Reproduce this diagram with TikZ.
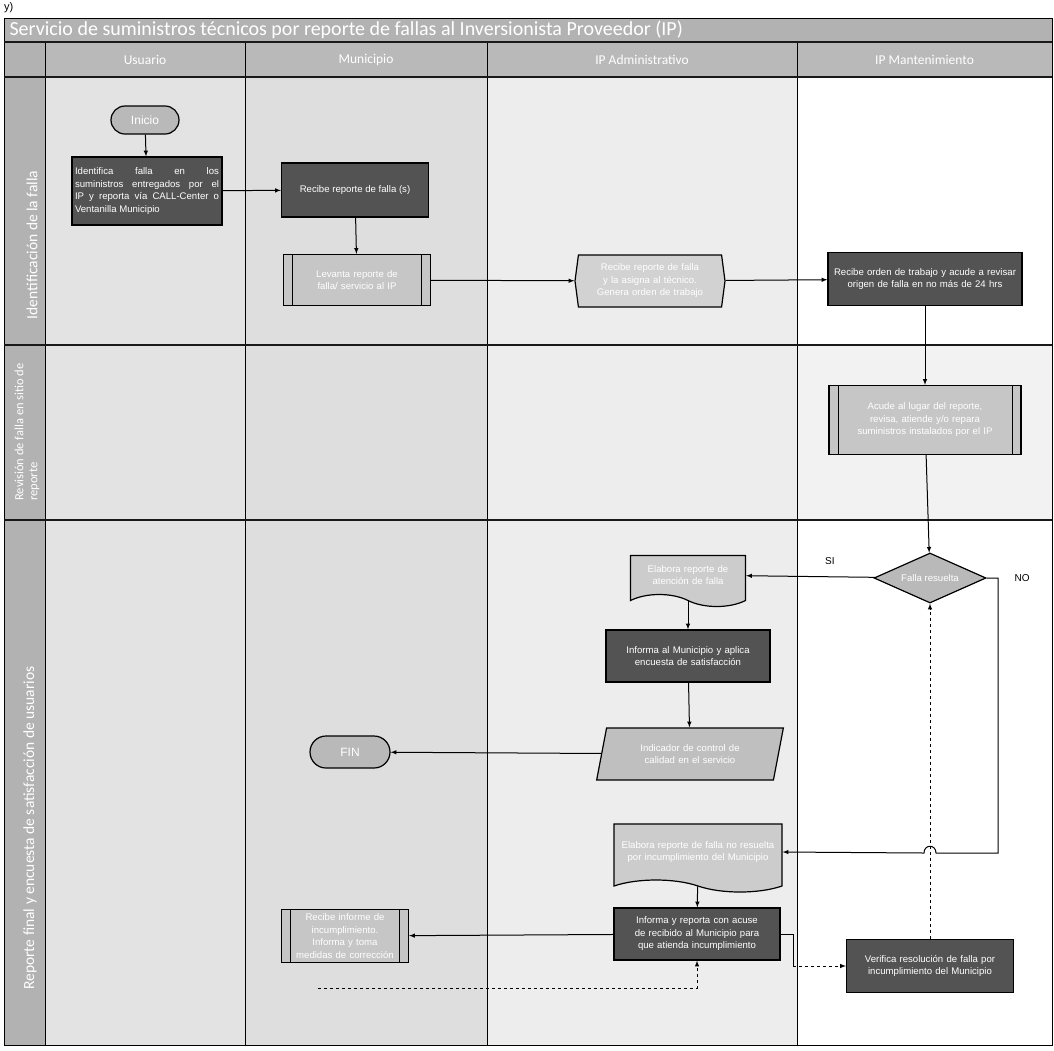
\documentclass[tikz,border=0pt]{standalone}
\usepackage{fontspec}
\setmainfont{Liberation Sans}
\newfontfamily\titlefont{Carlito}
\hyphenpenalty=10000
\exhyphenpenalty=10000
\usetikzlibrary{arrows,shapes,shapes.geometric,shapes.misc,shapes.symbols,positioning}
\tikzset{proc/.style={
            draw,
            fill=gray!65!black,
            text=white,
            line width=1.2pt,
            inner sep=1pt,
            align=center,
            font=\fontsize{9.6}{12.5}\selectfont
        },
        subproc/.style={
            proc,
            fill=gray!45,
            path picture={
                \draw[line width=1pt] ([xshift=9pt]path picture bounding box.north west) -- ([xshift=9pt]path picture bounding box.south west);
                \draw[line width=1pt] ([xshift=-9pt]path picture bounding box.north east) -- ([xshift=-9pt]path picture bounding box.south east);
            }
        },
        term/.style={
            proc,
            fill=gray!55,
            rounded rectangle,
            font=\fontsize{12}{14}\selectfont
        },
        doc/.style={
            proc,
            fill=gray!40,
            tape,
            tape bend top=none,
            tape bend bottom=out and in,
            tape bend height=12pt
        },
        prep/.style={
            proc,
            fill=gray!35,
            signal,
            signal to=west and east,
            signal pointer angle=165
        },
        io/.style={
            proc,
            fill=gray!50,
            trapezium,
            trapezium left angle=70,
            trapezium right angle=110,
            trapezium stretches=true
        },
        decision/.style={
            proc,
            fill=gray!55,
            diamond,
            aspect=2.2,
            inner sep=0pt
        },
        header/.style={
            fill=gray!55,
            text=white,
            font=\titlefont\fontsize{13.5}{15}\selectfont
        },
        lanelabel/.style={
            rotate=90,
            text=white,
            align=left,
            font=\titlefont\fontsize{15.5}{16}\selectfont
        },
        flow/.style={
            >=latex,
            line width=1pt,
            ->
        }
    }

\begin{document}
\begin{tikzpicture}[x=1pt,y=-1pt]
        \useasboundingbox (0,0) rectangle (1054,1050);
        \fill[white] (0,0) rectangle (1054,1050);
        % lanes
        \fill[gray!22] (45,77) rectangle (245,1045);
        \fill[gray!26] (245,77) rectangle (487,1045);
        \fill[gray!14] (487,77) rectangle (797,1045);
        \fill[gray!10] (797,345) rectangle (1052,520);
        \fill[gray!60] (4,18) rectangle (1052,42);
        \fill[gray!60] (4,42) rectangle (45,1045);
        \foreach \xa/\xb/\name in {45/245/Usuario,245/487/Municipio,487/797/IP Administrativo,797/1052/IP Mantenimiento} {
            \node[header,minimum width={\xb-\xa},minimum height=35pt,draw=gray!40!black] at ({(\xa+\xb)/2},59.5) {\name};
        }
        \node[anchor=west,text=white,font=\titlefont\fontsize{20}{22}\selectfont] (titulo) at (6,30) {Servicio de suministros técnicos por reporte de fallas al Inversionista Proveedor (IP)};
        \node[anchor=north west,inner sep=0pt,font=\fontsize{11}{11}\selectfont] (marca) at (4,2) {y)};
        \draw[line width=0.8pt] (4,18) rectangle (1052,1045);
        \foreach \x in {45,245,487,797} { \draw[line width=0.8pt] (\x,42) -- (\x,1045); }
        \foreach \y in {42,77,345,520} { \draw[line width=1.6pt,gray!20!black] (4,\y) -- (1052,\y); }
        \node[lanelabel] (fila1) at (32,245) {Identificación de la falla};
        \node[lanelabel,font=\titlefont\fontsize{12.5}{14}\selectfont] (fila2) at (27,432) {Revisión de falla en sitio de\\reporte};
        \node[lanelabel] (fila3) at (30,828) {Reporte final y encuesta de satisfacción de usuarios};

        % nodes
        \node[term,minimum width=70pt,minimum height=28pt] (inicio) at (145,120) {Inicio};
        \node[proc,minimum width=150pt,minimum height=68pt,text width=144pt,align=justify] (identifica) at (147,191) {Identifica falla en los\linebreak suministros entregados por el\linebreak IP y reporta vía CALL-Center o\linebreak Ventanilla Municipio};
        \node[proc,minimum width=147pt,minimum height=54pt] (recibe) at (355,190) {Recibe reporte de falla (s)};
        \node[subproc,minimum width=147pt,minimum height=51pt,text width=120pt] (levanta) at (357,280) {Levanta reporte de falla/ servicio al IP};
        \node[prep,minimum width=150pt,minimum height=52pt,text width=125pt] (asigna) at (650,281) {Recibe reporte de falla y la asigna al técnico. Genera orden de trabajo};
        \node[proc,minimum width=194pt,minimum height=53pt,text width=192pt] (orden) at (925,279) {Recibe orden de trabajo y acude a revisar origen de falla en no más de 24 hrs};
        \node[subproc,minimum width=192pt,minimum height=69pt,text width=165pt] (acude) at (925,420) {Acude al lugar del reporte, revisa, atiende y/o repara suministros instalados por el IP};
        \node[decision,minimum width=112pt,minimum height=50pt] (resuelta) at (930,578) {Falla resuelta};
        \node[doc,minimum width=115pt,minimum height=51pt,text width=108pt] (docok) at (688,575) {Elabora reporte de atención de falla};
        \node[proc,minimum width=164pt,minimum height=52pt,text width=150pt] (encuesta) at (688,656) {Informa al Municipio y aplica encuesta de satisfacción};
        \node[io,minimum width=187pt,minimum height=52pt,text width=130pt] (indicador) at (690,754) {Indicador de control de calidad en el servicio};
        \node[term,minimum width=82pt,minimum height=32pt] (fin) at (350,752) {FIN};
        \node[doc,minimum width=168pt,minimum height=68pt,text width=160pt] (docno) at (698,852) {Elabora reporte de falla no resuelta por incumplimiento del Municipio};
        \node[proc,minimum width=166pt,minimum height=52pt,text width=160pt] (reporta) at (697,934) {Informa y reporta con acuse de recibido al Municipio para que atienda incumplimiento};
        \node[subproc,minimum width=127pt,minimum height=53pt,text width=108pt] (correccion) at (345,936) {Recibe informe de incumplimiento. Informa y toma medidas de corrección};
        \node[proc,minimum width=167pt,minimum height=53pt,text width=160pt] (verifica) at (930,966) {Verifica resolución de falla por incumplimiento del Municipio};

        % connectors
        \draw[flow] (inicio) -- (identifica);
        \draw[flow] (identifica) -- (recibe);
        \draw[flow] (recibe) -- (levanta);
        \draw[flow] (levanta) -- (asigna);
        \draw[flow] (asigna) -- (orden);
        \draw[flow] (orden) -- (acude);
        \draw[flow] (acude) -- (resuelta);
        \draw[flow] (resuelta) -- node[pos=0.35,above=8pt,font=\fontsize{10}{12}\selectfont] {SI} (docok);
        \draw[flow] (resuelta.east) -- node[pos=0.9,right=14pt,font=\fontsize{10}{12}\selectfont] {NO} (998,578) -- (998,853) -- (936,853) .. controls (936,844) and (924,844) .. (924,853) -- (docno.east);
        \draw[flow] (docok) -- (encuesta);
        \draw[flow] (encuesta) -- (indicador);
        \draw[flow] (indicador) -- (fin);
        \draw[flow] (docno) -- (reporta);
        \draw[flow] (reporta) -- (correccion);
        \coordinate (codo) at (793,966);
        \coordinate (retorno) at (318,988);
        \draw[line width=1pt] (reporta.east) -| (codo);
        \draw[flow,dashed] (codo) -- (verifica);
        \draw[flow,dashed] (verifica) -- (resuelta);
        \draw[flow,dashed] (retorno) -| (reporta.south);
    \end{tikzpicture}
\end{document}
